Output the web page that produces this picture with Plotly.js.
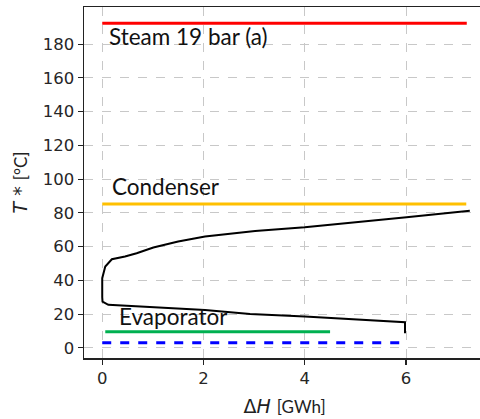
<!DOCTYPE html>
<html>
<head>
<meta charset="utf-8">
<script src="https://cdn.plot.ly/plotly-3.0.1.min.js"></script>
<style>
html,body{margin:0;padding:0;overflow:hidden;background:#fff;}
#chart{width:490px;height:419px;}
</style>
</head>
<body>
<div id="chart"></div>
<script>
// ---- data ----
const steamX = [0, 7.2];
const steamT = [192.4, 192.4];
const condX = [0, 7.19];
const condT = [85.3, 85.3];
const evapX = [0.06, 4.5];
const evapT = [9.5, 9.5];
const sourceX = [0, 5.99];
const sourceT = [3.1, 3.1];
const curveX = [5.98, 5.98, 4.0, 2.92, 2.03, 0.32, 0.12, 0.006, 0.0, 0.0, 0.06, 0.19, 0.45, 0.68, 1.01, 1.5, 2.03, 3.02, 4.0, 6.01, 7.26];
const curveT = [8.7, 15.2, 18.6, 20.1, 22.5, 24.9, 25.5, 27.4, 30.0, 41.3, 48.2, 52.5, 54.1, 56.1, 59.5, 63.0, 66.0, 69.3, 71.5, 77.4, 81.2];
const xTicks = [0, 2, 4, 6];
const yTicks = [0, 20, 40, 60, 80, 100, 120, 140, 160, 180];
const labels = ["Steam 19 bar (a)", "Condenser", "Evaporator"];
const labelX = [0.1, 0.16, 0.3];
const labelT = [184.8, 95.6, 18.5];

const labelFont = {family: "Lato, 'Open Sans', sans-serif", size: 22.5, color: "#111"};

const traces = [
  {x: steamX, y: steamT, mode: "lines", line: {color: "#ff0000", width: 3}},
  {x: condX, y: condT, mode: "lines", line: {color: "#ffc000", width: 3}},
  {x: evapX, y: evapT, mode: "lines", line: {color: "#00b050", width: 3}},
  {x: sourceX, y: sourceT, mode: "lines", line: {color: "#0000ff", width: 3, dash: "dash"}},
  {x: curveX, y: curveT, mode: "lines", line: {color: "#000000", width: 2}}
];

const annotations = labels.map((t, i) => ({
  x: labelX[i], y: labelT[i], xref: "x", yref: "y",
  text: t, showarrow: false, xanchor: "left", yanchor: "middle",
  font: labelFont
}));

const axisCommon = {
  showline: true, linecolor: "#222", linewidth: 1.5, mirror: true,
  ticks: "outside", ticklen: 5, tickwidth: 1.2, tickcolor: "#222",
  showgrid: true, gridcolor: "#c8c8c8", griddash: "dash", gridwidth: 1,
  zeroline: false,
  tickfont: {family: "'DejaVu Sans', sans-serif", size: 16.5, color: "#262626"}
};

const layout = {
  width: 490, height: 419,
  margin: {l: 84, r: 5, t: 7, b: 61},
  paper_bgcolor: "#fff", plot_bgcolor: "#fff",
  showlegend: false,
  xaxis: Object.assign({}, axisCommon, {
    range: [-0.36, 7.56], tickvals: xTicks, ticktext: xTicks.map(String),
    title: {text: "Δ<i>H</i> <span style='font-family:Lato;font-size:17px'>[GWh]</span>",
            font: {family: "'DejaVu Sans', sans-serif", size: 19, color: "#222"}, standoff: 12}
  }),
  yaxis: Object.assign({}, axisCommon, {
    range: [-6, 202], tickvals: yTicks, ticktext: yTicks.map(String),
    title: {text: "<i>T</i> * <span style='font-family:Lato;font-size:17px'>[°C]</span>",
            font: {family: "'DejaVu Sans', sans-serif", size: 19, color: "#222"}, standoff: 10}
  }),
  annotations: annotations
};

Plotly.newPlot("chart", traces, layout, {displayModeBar: false, staticPlot: true});
</script>
</body>
</html>
